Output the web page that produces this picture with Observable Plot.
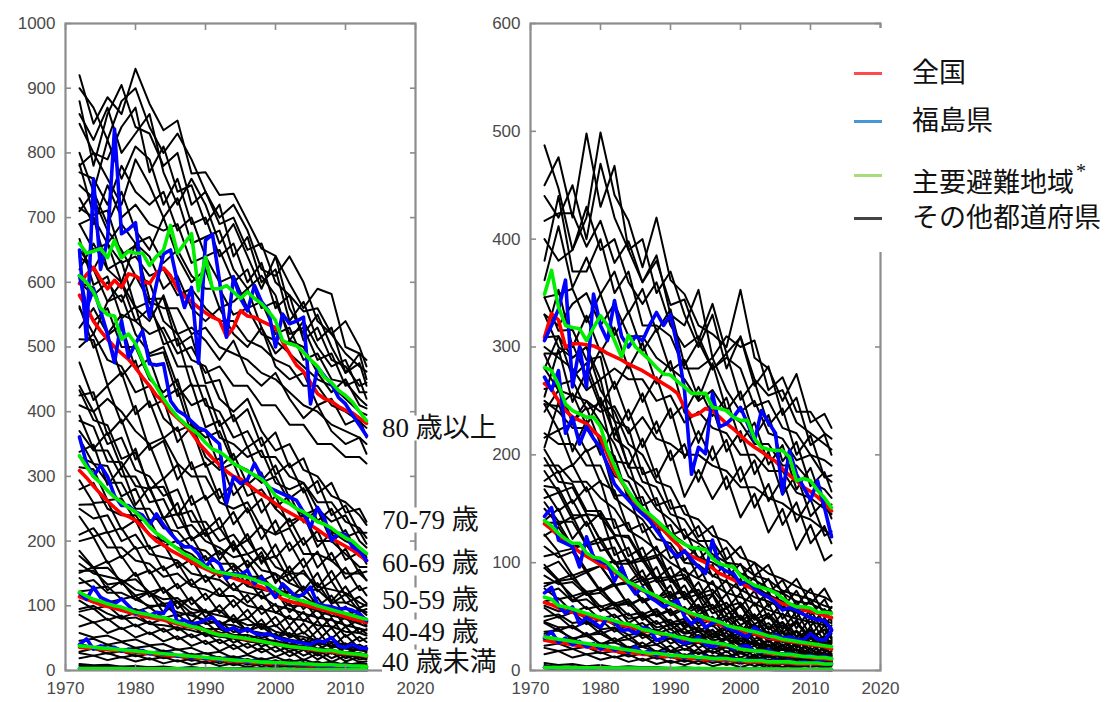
<!DOCTYPE html>
<html><head><meta charset="utf-8">
<script src="https://cdn.jsdelivr.net/npm/d3@7"></script>
<script src="https://cdn.jsdelivr.net/npm/@observablehq/plot@0.6"></script>
<style>
html,body{margin:0;padding:0;background:#fff;}
#root{position:relative;width:1110px;height:702px;overflow:hidden;background:#fff;}
.panel{position:absolute;top:0;}
.age{position:absolute;left:382px;background:#fff;font-family:"Liberation Serif","Noto Sans CJK JP",serif;font-size:27px;line-height:23px;padding:1px 0;color:#111;white-space:nowrap;transform:translateY(-50%);}
#legend{position:absolute;left:845px;top:28px;width:265px;height:224px;background:#fff;}
.lg-row{position:absolute;left:0;height:30px;transform:translateY(-50%);}
.lg-sw{position:absolute;left:9px;top:14px;width:28px;height:3px;}
.lg-tx{position:absolute;left:67px;top:0;font-family:"Liberation Serif","Noto Sans CJK JP",serif;font-size:27px;line-height:30px;color:#111;white-space:nowrap;}
.lg-tx sup{font-size:20px;position:relative;top:-4px;margin-left:2px;}
</style></head>
<body><div id="root"></div>
<script>
// ---------- data ----------
const years = [1972,1973,1974,1975,1976,1977,1978,1979,
  1980,1981,1982,1983,1984,1985,1986,1987,1988,1989,
  1990,1991,1992,1993,1994,1995,1996,1997,1998,1999,
  2000,2001,2002,2003,2004,2005,2006,2007,2008,2009,
  2010,2011,2012,2013];
const sampleYears = [1972,1974,1976,1978,1980,1982,1984,1986,1988,1990,1992,1994,1996,1998,2000,2002,2004,2006,2008,2010,2012,2013];
const ageGroups = ["80 歳以上","70-79 歳","60-69 歳","50-59 歳","40-49 歳","40 歳未満"];
const legendLabels = ["全国","福島県","主要避難地域","その他都道府県"];
const xTicks = [1970,1980,1990,2000,2010,2020];
const yTicksLeft = [0,100,200,300,400,500,600,700,800,900,1000];
const yTicksRight = [0,100,200,300,400,500,600];

// Left panel: national (全国), rows = age groups 80+,70-79,60-69,50-59,40-49,<40
const leftNational = [
 [598,612,623,605,590,603,592,613, 610,602,598,615,622,610,590,578,570,561, 553,546,541,516,530,556,548,546,540,535, 530,508,490,472,462,445,428,420,416,408, 402,398,390,382],
 [580,561,540,525,512,500,490,481, 468,453,440,425,415,400,390,380,368,352, 340,328,318,308,300,296,288,280,272,266, 258,250,244,238,232,225,218,210,204,198, 192,186,178,170],
 [309,298,285,273,262,252,242,238, 232,222,210,200,194,186,180,174,168,162, 157,152,149,146,143,139,136,132,129,124, 118,110,107,104,102,99,96,93,90,87, 83,80,77,74],
 [114,110,106,102,99,96,93,90, 87,84,82,80,78,75,72,69,67,65, 62,59,56,54,52,50,48,46,45,43, 41,39,37,36,34,33,31,30,29,27, 26,25,24,22],
 [36,35,34,33,32,31,30,29, 28,27,26,25,24,23,22,21,20,19, 18,17,16,15,14,14,13,12,12,11, 11,10,10,9,9,8,8,8,7,7, 7,6,6,6],
 [3,3,3,3,2.9,2.9,2.8,2.8, 2.7,2.7,2.6,2.6,2.5,2.5,2.4,2.4,2.3,2.3, 2.2,2.2,2.1,2.1,2,2,1.9,1.9,1.8,1.8, 1.7,1.7,1.6,1.6,1.5,1.5,1.4,1.4,1.3,1.3, 1.2,1.2,1.1,1.1]
];
const leftFukushima = [
 [650,510,760,620,665,837,675,682, 692,600,546,598,644,650,600,561,592,475, 665,674,603,515,608,575,556,595,570,556, 500,551,536,540,546,412,469,455,443,422, 412,395,379,363],
 [610,560,590,556,520,476,541,484, 505,525,474,472,474,417,402,395,385,375, 371,360,350,258,299,289,295,320,300,283, 278,273,268,263,245,221,252,235,201,212, 210,191,185,170],
 [361,320,300,317,300,270,255,255, 245,240,225,242,225,212,200,191,191,180, 160,173,165,142,150,148,155,134,144,128, 113,134,124,113,118,129,103,100,98,95, 96,93,88,77],
 [120,110,129,113,108,103,111,100, 88,92,85,90,88,106,75,78,72,74, 78,82,70,62,66,60,64,58,55,57, 52,48,46,44,42,40,46,44,51,38, 36,40,35,34],
 [40,49,33,38,34,36,30,33, 29,31,26,28,25,27,22,24,20,22, 18,20,16,18,15,17,13,15,12,14, 11,12,10,11,9,10,8,9,7,8, 6,7,6,5],
 [3.5,2.5,3.2,2.8,3.3,2.5,3,2.6, 2.9,2.4,2.8,2.3,2.7,2.2,2.6,2.2,2.4,2, 2.3,1.9,2.2,1.8,2.1,1.7,2,1.6,1.9,1.5, 1.8,1.5,1.7,1.4,1.6,1.3,1.5,1.2,1.4,1.2, 1.3,1.1,1.2,1]
];
const leftEvac = [
 [660,645,648,652,638,665,638,648, 645,645,626,640,650,688,645,660,675,587, 639,590,590,595,585,575,585,575,567,555, 541,510,505,502,492,480,470,453,445,433, 425,415,400,386],
 [610,600,585,560,550,548,512,520, 505,480,455,438,420,405,392,382,373,365, 352,342,338,330,320,314,308,302,296,285, 270,263,258,250,245,238,230,226,220,212, 205,200,190,181],
 [332,315,300,290,278,268,260,252, 245,235,222,212,205,196,188,180,174,168, 160,155,152,150,148,146,144,140,136,133, 126,118,114,110,107,104,100,97,94,91, 88,85,82,79],
 [121,115,110,107,103,100,98,94, 90,88,86,83,82,78,74,71,68,66, 62,58,55,54,52,51,49,47,45,43, 41,39,37,36,35,34,32,31,31,29, 27,26,25,23],
 [38,37,36,35,34,33,32,31, 30,29,28,27,26,25,24,23,22,21, 20,19,18,17,16,15,15,14,13,13, 12,12,11,11,10,10,9,9,9,8, 8,7,7,6],
 [3.2,3.1,3.1,3,3,2.9,2.9,2.8, 2.8,2.7,2.7,2.6,2.6,2.5,2.5,2.4,2.4,2.3, 2.3,2.2,2.2,2.1,2.1,2,2,1.9,1.9,1.8, 1.8,1.7,1.7,1.6,1.6,1.5,1.5,1.4,1.4,1.3, 1.3,1.2,1.2,1.1]
];
// Left panel: other prefectures (その他都道府県), sampled every two years
const leftOther80 = [
 [920,845,886,860,930,876,835,850,768,770,735,737,695,652,641,598,560,590,582,500,490,480],
 [880,780,860,905,840,830,780,800,720,740,690,700,650,660,600,580,555,560,520,490,470,462],
 [845,800,790,840,870,770,810,740,750,690,720,640,670,600,620,540,570,510,530,460,475,440],
 [800,740,820,760,810,790,720,760,690,700,640,660,600,630,560,580,510,530,480,470,440,445],
 [770,760,720,780,740,720,740,680,700,640,650,600,620,560,570,520,530,480,490,440,450,420],
 [730,690,750,700,720,690,680,690,630,640,600,610,560,570,520,530,480,490,450,445,420,410],
 [690,700,660,690,660,670,630,650,610,590,590,550,560,520,510,490,470,450,440,420,400,395],
 [650,620,660,630,640,610,620,580,590,560,540,540,510,500,480,470,440,440,410,400,385,375],
 [600,580,600,570,610,570,560,560,520,530,500,490,480,460,450,430,410,400,380,370,360,350],
 [530,560,520,550,540,520,530,490,500,460,470,440,440,410,410,380,380,350,350,330,330,320],
 [900,870,820,880,900,840,800,830,790,740,700,720,680,620,610,640,600,540,520,540,500,470],
 [860,820,870,800,830,860,770,720,760,720,660,690,640,590,640,560,520,550,500,460,490,450],
 [780,800,760,720,790,750,700,730,660,670,680,620,590,610,580,510,540,500,470,480,430,430],
 [710,740,690,740,680,650,700,640,600,620,560,570,590,530,490,510,500,460,430,450,410,405],
 [620,660,620,600,660,640,590,610,560,540,560,520,500,530,470,450,460,410,420,380,390,360],
 [560,520,570,600,560,540,580,520,530,510,480,510,460,440,460,420,390,410,370,350,360,335]
];
const leftOther70 = [
 [783,704,711,642,657,574,575,502,517,444,449,385,404,347,368,314,328,274,290,244,250,230],
 [715,700,620,633,560,570,504,513,440,440,378,395,345,360,303,320,275,293,240,255,213,213],
 [667,596,609,544,563,486,492,424,443,376,386,325,346,293,317,266,282,231,250,206,215,196],
 [599,592,518,535,466,482,421,435,366,372,314,335,287,306,251,271,229,249,199,217,177,179],
 [563,499,517,455,479,407,418,353,377,315,328,271,294,244,270,222,240,191,213,171,183,165],
 [512,511,441,461,396,416,359,376,311,321,266,290,244,265,212,235,194,216,169,188,150,153],
 [476,418,440,382,409,341,355,295,322,264,281,226,251,203,232,185,205,159,182,142,156,139],
 [425,430,364,388,326,350,296,318,256,270,219,245,201,224,174,198,159,184,138,159,124,128],
 [394,342,368,313,343,279,297,240,270,216,236,184,211,165,195,151,173,128,154,116,131,116],
 [338,349,287,314,256,284,234,259,201,219,171,200,158,183,135,161,124,151,107,130,97,102],
 [750,730,680,650,610,600,540,520,480,470,420,400,420,370,340,350,310,300,270,260,240,225],
 [690,650,660,600,540,560,520,470,470,410,400,360,370,330,330,300,290,260,260,230,220,205],
 [640,620,570,580,520,490,500,440,410,420,360,350,330,340,290,280,290,250,230,240,200,190],
 [580,540,560,500,500,450,430,450,380,360,370,320,310,290,300,260,240,250,215,200,190,175],
 [500,520,480,470,430,440,390,370,380,330,310,320,270,280,250,230,240,200,200,180,160,160],
 [440,400,420,400,370,350,360,320,300,300,260,250,260,220,210,220,180,180,170,150,150,140]
];
const leftOther60 = [
 [433,387,379,327,337,282,284,240,247,208,221,188,202,169,177,138,155,122,138,104,114,104],
 [386,377,323,322,285,281,236,242,203,213,179,195,162,177,139,149,119,135,103,118,91,95],
 [358,319,316,269,281,232,237,197,207,170,185,154,170,138,149,112,130,99,116,84,95,86],
 [314,311,263,266,232,233,192,201,164,177,144,162,131,147,112,124,95,113,83,99,73,78],
 [294,259,261,218,232,188,196,159,172,137,154,124,141,111,124,90,109,79,98,67,79,70],
 [256,257,213,220,188,193,155,167,132,147,116,135,105,123,89,104,76,95,65,83,58,64],
 [238,207,214,174,191,150,161,127,141,109,127,98,117,87,103,70,91,62,81,52,65,57],
 [200,206,166,177,146,155,120,134,102,119,89,109,80,100,68,85,57,77,49,68,45,50],
 [185,159,169,133,151,114,128,96,113,82,101,74,94,65,83,52,73,46,66,38,52,44],
 [151,160,124,138,109,121,89,106,75,94,65,86,59,79,49,68,41,62,35,55,34,38],
 [410,400,350,360,310,300,270,280,230,230,200,210,180,190,160,150,150,130,125,120,105,100],
 [370,340,340,300,300,260,265,220,225,200,190,175,180,155,150,135,125,125,105,105,95,90],
 [330,320,290,290,250,250,220,215,190,185,165,165,145,145,125,120,115,100,100,88,85,80],
 [280,290,250,240,240,210,200,190,180,160,150,150,130,125,120,100,100,92,85,80,72,68],
 [250,235,240,200,210,180,175,170,150,145,140,125,120,115,100,95,88,82,78,70,65,62],
 [210,220,190,190,170,165,145,150,130,125,115,115,100,95,90,80,78,70,68,60,58,54]
];
const leftOther50 = [
 [177,158,159,138,141,121,127,106,110,90,93,75,80,64,70,51,59,42,51,34,40,34],
 [154,154,133,136,116,121,103,107,88,93,72,79,61,69,51,58,42,49,35,42,31,31],
 [143,127,130,110,115,97,104,84,90,72,76,59,66,50,57,40,49,33,42,27,33,28],
 [122,125,105,110,91,98,81,87,69,75,57,64,48,56,40,47,32,41,26,35,24,25],
 [108,95,100,82,89,72,80,62,70,53,59,43,52,37,45,29,38,23,34,19,26,21],
 [91,96,78,85,68,76,60,67,51,59,42,50,35,44,29,37,23,32,19,28,17,19],
 [86,74,80,64,71,56,65,48,56,41,48,33,42,28,37,22,32,17,28,14,21,17],
 [68,75,58,66,51,59,45,53,38,46,30,40,25,35,21,30,16,26,13,23,13,14],
 [165,150,145,140,125,120,110,112,95,90,85,80,70,72,60,55,52,46,44,40,35,33],
 [135,140,120,120,110,100,100,90,85,78,72,70,62,58,54,48,44,42,38,34,32,30],
 [115,105,108,92,95,85,82,76,76,64,64,55,55,48,46,40,38,34,32,28,27,24],
 [95,100,88,80,82,72,70,66,62,56,52,50,45,42,40,34,32,28,28,24,22,20]
];
const leftOther40 = [
 [58,51,54,45,48,39,41,32,35,26,29,19,24,16,21,13,17,10,14,8,12,10],
 [46,49,40,44,35,38,29,33,24,27,19,22,15,19,12,17,9,14,6,12,6,8],
 [41,36,40,32,35,27,31,22,26,18,21,13,18,11,16,9,13,6,11,5,9,7],
 [29,34,26,30,22,26,19,23,15,19,11,16,9,14,7,12,5,10,4,9,3,5],
 [27,23,27,20,24,17,21,14,18,11,15,8,13,6,11,5,10,3,8,3,7,5],
 [19,23,16,21,14,19,11,16,9,14,7,11,5,10,4,9,2,8,1,7,2,4]
];
const leftOtherU40 = [
 [8,5,7,4,6,4,5,3,5,3,4,2,4,2,3,2,3,1,2,1,2,1],
 [5,7,4,6,3,5,3,4,2,4,2,3,2,3,1,2,1,2,1,2,1,1],
 [3,2,4,2,3,2,3,1,2,1,2,1,2,1,1,1,1,1,1,1,1,1],
 [10,8,9,6,7,5,6,4,5,3,4,3,3,2,3,2,2,2,2,1,2,1]
];

// Right panel
const rightNational = [
 [309,331,325,300,303,303,302,301, 298,294,291,288,284,281,278,274,270,266, 262,257,244,236,238,243,241,235,229,224, 218,212,207,203,198,194,187,181,176,170, 166,161,155,148],
 [266,261,250,241,235,232,229,222, 216,200,185,175,165,155,148,142,136,130, 123,117,110,106,103,100,95,90,87,84, 81,78,75,71,68,65,62,60,58,56, 55,53,51,49],
 [136,131,125,120,115,110,106,102, 98,95,91,86,81,77,74,71,68,65, 61,58,55,52,50,47,45,43,40,38, 37,35,34,32,30,29,28,27,26,25, 24,23,22,20],
 [63,61,58,56,54,52,51,49, 47,46,44,42,41,39,37,36,35,33, 32,30,29,28,27,26,25,24,23,22, 20,19,18,17,16,15,15,14,13,13, 12,11,11,10],
 [28,27,26,25,24,23,22,21, 20,19,18,17,17,16,15,15,14,13, 13,12,12,11,11,10,10,10,9,9, 9,8,8,8,7,7,7,7,6,6, 6,6,6,6],
 [2.5,2.5,2.4,2.4,2.3,2.3,2.2,2.2, 2.1,2.1,2,2,1.9,1.9,1.8,1.8,1.7,1.7, 1.6,1.6,1.5,1.5,1.4,1.4,1.3,1.3,1.3,1.2, 1.2,1.2,1.1,1.1,1.1,1,1,1,1,0.9, 0.9,0.9,0.9,0.8]
];
const rightFukushima = [
 [306,320,335,362,263,300,263,349, 320,306,343,310,300,310,306,320,332,320, 330,300,260,182,207,201,257,226,229,235, 244,229,213,241,230,220,164,204,182,170, 158,176,151,124],
 [272,260,278,220,235,210,226,215, 207,190,173,165,158,151,145,139,130,121, 112,105,111,103,96,90,121,96,92,90, 80,83,76,71,68,63,56,58,56,52, 49,47,46,38],
 [143,151,121,118,115,96,124,105, 101,99,83,96,80,71,77,68,64,59, 62,65,50,43,49,40,44,46,40,37, 34,31,40,35,31,33,30,31,29,28, 34,29,28,37],
 [72,77,60,53,59,43,49,45, 40,49,45,37,38,34,40,38,28,30, 34,28,25,27,31,24,22,25,24,20, 22,23,18,17,19,16,15,16,14,13, 14,12,13,11],
 [30,36,26,30,24,27,22,25, 20,23,19,21,17,22,16,18,14,17, 13,15,12,14,11,13,10,12,10,11, 9,10,9,10,8,9,8,9,7,8, 7,8,7,6],
 [3,2,2.8,2.1,2.6,2,2.5,1.9, 2.4,1.8,2.3,1.7,2.2,1.7,2.1,1.6,2,1.5, 1.9,1.5,1.8,1.4,1.7,1.3,1.6,1.3,1.5,1.2, 1.4,1.2,1.3,1.1,1.2,1,1.2,1,1.1,0.9, 1,0.9,1,0.8]
];
const rightEvac = [
 [349,371,337,320,318,317,306,318, 329,320,306,291,311,300,294,288,281,275, 274,268,263,257,257,257,244,243,241,235, 232,232,215,207,205,204,204,198,176,178, 176,167,160,151],
 [281,278,265,247,241,238,235,235, 226,205,190,176,166,157,150,145,139,133, 127,121,117,114,113,112,104,99,97,96, 88,83,79,77,75,72,67,62,59,59, 58,54,54,53],
 [139,134,127,122,118,118,109,105, 104,100,93,88,82,79,75,72,69,65, 62,59,56,53,51,49,47,45,42,40, 39,37,36,34,32,31,29,28,27,26, 25,24,23,22],
 [68,66,60,59,57,55,53,51, 49,48,46,44,43,41,38,37,35,34, 33,31,30,28,28,27,26,25,24,22, 20,19,18,18,17,16,15,15,14,13, 13,12,12,11],
 [31,30,29,28,27,26,25,24, 23,22,21,20,19,18,17,16,16,15, 14,14,13,13,12,12,11,11,11,10, 10,9,9,9,8,8,8,8,7,7, 7,7,6,6],
 [2.8,2.8,2.7,2.7,2.6,2.6,2.5,2.5, 2.4,2.4,2.3,2.3,2.2,2.2,2.1,2.1,2,2, 1.9,1.9,1.8,1.8,1.7,1.7,1.6,1.6,1.5,1.5, 1.4,1.4,1.4,1.3,1.3,1.3,1.2,1.2,1.2,1.1, 1.1,1.1,1,1]
];
const rightOther80 = [
 [487,447,390,420,499,441,417,374,420,362,349,320,312,300,353,290,280,250,275,230,238,225],
 [450,476,420,498,430,468,390,360,385,330,320,353,290,310,300,306,260,272,240,240,220,215],
 [417,424,424,393,417,378,398,360,380,339,344,306,340,294,309,264,282,237,253,209,219,200],
 [362,412,355,383,349,370,331,354,314,335,283,305,279,294,251,268,227,243,200,218,179,181],
 [346,349,354,323,349,311,333,296,317,278,288,252,285,241,259,217,237,194,212,171,184,166],
 [306,353,300,329,295,318,280,304,266,287,239,263,236,253,212,230,191,209,168,188,151,154],
 [294,294,303,272,298,261,285,249,272,234,247,211,244,203,222,182,203,163,182,143,157,141],
 [254,298,249,278,244,268,232,257,220,243,197,222,195,214,175,195,157,178,138,159,125,129],
 [247,245,257,227,253,218,242,207,231,195,210,175,208,168,189,151,173,135,156,118,134,118],
 [207,249,203,232,200,225,189,215,179,204,161,186,159,180,142,164,128,150,112,135,102,107],
 [440,420,450,400,470,420,390,400,350,370,330,300,330,280,310,270,255,260,230,220,210,205],
 [400,380,390,430,390,400,360,340,360,320,300,310,280,290,280,245,250,225,220,200,195,190],
 [380,440,370,370,400,350,370,320,320,310,280,280,290,260,240,250,220,215,195,200,180,175],
 [330,320,340,350,320,340,310,310,290,280,270,250,260,240,230,210,210,190,190,175,168,160],
 [280,310,290,300,270,280,270,270,250,255,230,240,225,220,200,200,185,185,165,160,150,145],
 [240,260,230,250,240,245,220,235,215,210,200,200,190,185,170,170,160,155,145,140,130,126]
];
const rightOther70 = [
 [346,315,316,288,291,231,225,182,187,150,153,124,134,103,115,88,98,71,85,62,76,64],
 [309,310,272,285,249,232,188,188,153,158,122,134,104,114,87,100,72,84,60,76,51,59],
 [293,265,269,242,248,194,192,153,160,125,131,103,115,86,99,73,85,58,74,51,66,54],
 [261,265,230,244,210,199,158,161,129,135,102,115,87,99,73,87,59,73,49,66,42,50],
 [247,223,229,203,211,162,163,128,136,104,112,86,98,71,85,60,73,48,64,41,57,46],
 [216,223,190,205,174,167,130,136,106,115,84,98,71,84,59,74,48,63,39,57,33,42],
 [205,183,191,166,176,132,137,104,115,85,95,69,83,57,72,48,62,38,55,32,49,38],
 [176,185,155,170,141,140,106,114,85,96,67,82,57,71,47,63,38,53,31,49,26,34],
 [168,148,158,134,146,107,114,83,96,67,79,55,70,45,61,37,53,29,47,25,42,31],
 [139,150,122,138,111,114,82,93,66,79,52,68,43,59,35,52,28,45,22,41,19,27],
 [330,300,290,300,260,240,210,200,175,170,145,140,125,120,105,100,90,85,78,72,68,64],
 [300,290,280,260,270,215,205,175,170,145,140,120,120,100,98,88,84,74,70,66,60,58],
 [280,260,255,250,230,210,180,170,150,140,125,118,108,100,90,84,76,72,64,62,56,54],
 [250,240,225,225,205,180,175,150,140,128,118,105,100,92,82,78,70,64,60,55,52,48],
 [220,210,210,190,190,160,150,140,122,118,100,98,88,82,75,68,64,58,54,50,46,44],
 [190,190,175,175,160,150,130,122,112,100,92,85,80,72,68,62,56,52,48,45,42,40]
];
const rightOther60 = [
 [197,175,173,148,148,126,123,101,105,82,86,67,71,52,60,43,50,35,44,29,38,29],
 [171,169,144,144,121,124,99,102,82,85,66,71,53,58,42,50,33,42,28,37,23,26],
 [156,138,138,116,119,99,99,79,84,64,69,52,58,40,49,33,41,26,36,22,31,23],
 [137,137,115,117,97,102,79,84,65,70,52,59,41,48,33,42,26,35,21,31,17,21],
 [126,110,113,93,97,79,81,63,69,51,57,41,48,31,40,26,34,20,30,16,26,19],
 [106,109,88,93,74,81,60,67,50,56,39,47,31,39,24,34,19,29,15,26,12,16],
 [98,84,89,70,77,60,64,47,55,38,46,30,38,23,33,18,28,14,25,11,22,14],
 [78,84,65,72,55,62,44,52,36,44,28,37,22,31,17,27,13,23,10,21,8,12],
 [185,165,170,145,143,125,125,103,107,87,89,71,75,59,63,47,53,39,45,31,38,30],
 [160,165,140,145,120,123,100,105,85,87,70,75,57,63,47,52,38,45,31,38,25,28],
 [150,135,143,117,123,100,103,83,87,70,73,57,61,47,51,38,44,31,37,25,32,25],
 [125,133,113,117,97,101,81,87,67,73,55,61,45,51,37,43,30,37,24,32,19,22],
 [115,105,110,91,97,79,83,65,70,53,59,44,50,36,42,29,36,23,31,19,27,20],
 [95,101,85,91,73,79,61,67,51,57,41,48,34,41,27,35,22,30,18,26,14,18]
];
const rightOther50 = [
 [95,83,85,73,75,62,66,52,57,44,48,37,42,31,34,23,28,19,24,14,21,15],
 [81,82,69,73,59,63,51,54,43,47,35,40,30,35,23,28,18,24,14,20,11,14],
 [76,66,69,57,60,49,53,40,46,34,39,28,34,24,28,18,23,14,20,10,17,12],
 [64,67,54,59,47,52,40,44,34,39,27,33,23,29,18,23,13,20,10,17,8,11],
 [58,49,54,43,47,36,42,30,36,25,31,21,27,17,22,13,19,10,16,7,14,9],
 [46,50,39,45,34,39,29,34,24,30,19,26,16,22,12,18,9,16,6,14,5,8],
 [44,37,42,32,37,27,33,22,29,18,24,15,22,12,18,9,15,7,13,4,12,7],
 [34,39,28,35,24,30,21,26,17,23,13,20,11,18,8,15,6,13,4,11,3,6],
 [88,80,82,70,72,60,62,50,52,43,44,36,37,30,30,24,24,19,19,15,15,13],
 [72,76,64,66,56,58,48,50,40,42,34,36,28,30,23,25,18,20,14,16,11,12],
 [60,55,56,48,50,42,44,36,38,31,32,26,27,21,22,17,18,13,14,10,11,9],
 [50,52,44,46,38,40,33,35,28,30,24,26,20,22,16,18,12,14,10,11,8,8]
];
const rightOther40 = [
 [45,40,40,33,34,27,29,22,24,17,20,16,18,12,16,11,13,9,12,8,11,10],
 [36,37,30,32,25,26,21,22,17,18,13,17,12,14,10,13,7,11,6,10,6,8],
 [32,28,30,23,25,19,22,15,18,12,15,11,14,8,12,7,10,6,9,5,8,7],
 [23,25,20,22,16,18,13,16,11,13,8,12,7,10,6,9,4,8,3,7,4,5],
 [21,18,20,15,17,12,15,9,13,7,10,6,10,5,9,4,7,3,7,3,6,5],
 [15,18,12,15,10,13,8,11,6,9,5,9,4,7,3,7,2,6,2,6,2,4]
];
const rightOtherU40 = [
 [5,3,4,2,3,2,3,2,2,1,2,1,2,1,1,1,1,1,1,1,1,1],
 [3,4,2,3,2,3,1,2,1,2,1,1,1,1,1,1,1,1,1,1,1,1],
 [7,5,6,4,5,3,4,3,3,2,3,2,2,2,2,1,2,1,1,1,1,1],
 [2,2,3,1,2,1,2,1,1,1,1,1,1,1,1,1,1,1,1,1,1,1]
];

// ---------- drawing ----------
const COLORS = {national: "#ff0000", fukushima: "#0000ff", evac: "#00ee00", other: "#000000"};
const AXIS = "#8c8c8c";

function otherRows(groups) {
  return groups.flatMap((group, g) => group.flatMap((vals, i) =>
    vals.map((v, k) => ({x: sampleYears[k], y: v, id: g + "-" + i}))));
}
function colorRows(series, name) {
  return series.flatMap((vals, g) => vals.map((v, k) => ({x: years[k], y: v, id: name + "-" + g})));
}

function panel(national, fukushima, evac, others, yMax, yTicks) {
  const fmt = d => String(d);
  return Plot.plot({
    width: 430, height: 702,
    marginLeft: 65, marginRight: 15, marginTop: 23, marginBottom: 32,
    x: {domain: [1970, 2020]},
    y: {domain: [0, yMax]},
    style: {fontFamily: "'Liberation Sans', Arial, sans-serif", background: "transparent", overflow: "visible"},
    marks: [
      Plot.line(otherRows(others), {x: "x", y: "y", z: "id", stroke: COLORS.other, strokeWidth: 2}),
      Plot.line(colorRows(national, "n"), {x: "x", y: "y", z: "id", stroke: COLORS.national, strokeWidth: 3.6}),
      Plot.line(colorRows(fukushima, "f"), {x: "x", y: "y", z: "id", stroke: COLORS.fukushima, strokeWidth: 3.6}),
      Plot.line(colorRows(evac, "e"), {x: "x", y: "y", z: "id", stroke: COLORS.evac, strokeWidth: 3.6}),
      Plot.frame({stroke: AXIS, strokeWidth: 2.2}),
      Plot.axisY({anchor: "left", ticks: yTicks, tickSize: 0, tickPadding: 10, fontSize: 17, fill: "#4a4a4a", tickFormat: fmt, label: null}),
      Plot.axisY({anchor: "left", ticks: yTicks, tickSize: -6, fill: "none", stroke: AXIS, strokeWidth: 1.6, label: null}),
      Plot.axisY({anchor: "right", ticks: yTicks, tickSize: -6, fill: "none", stroke: AXIS, strokeWidth: 1.6, label: null}),
      Plot.axisX({anchor: "bottom", ticks: xTicks, tickSize: 0, tickPadding: 11, fontSize: 17, fill: "#4a4a4a", tickFormat: fmt, label: null}),
      Plot.axisX({anchor: "bottom", ticks: xTicks, tickSize: -6, fill: "none", stroke: AXIS, strokeWidth: 1.6, label: null}),
      Plot.axisX({anchor: "top", ticks: xTicks, tickSize: -6, fill: "none", stroke: AXIS, strokeWidth: 1.6, label: null})
    ]
  });
}

const root = document.getElementById("root");
const left = panel(leftNational, leftFukushima, leftEvac,
  [leftOther80, leftOther70, leftOther60, leftOther50, leftOther40, leftOtherU40], 1000, yTicksLeft);
const right = panel(rightNational, rightFukushima, rightEvac,
  [rightOther80, rightOther70, rightOther60, rightOther50, rightOther40, rightOtherU40], 600, yTicksRight);
const wl = document.createElement("div"); wl.className = "panel"; wl.style.left = "0px"; wl.appendChild(left); root.appendChild(wl);
const wr = document.createElement("div"); wr.className = "panel"; wr.style.left = "465px"; wr.appendChild(right); root.appendChild(wr);

// age-group labels (layout positions)
const labelTops = [428, 520, 563, 600, 632, 662];
ageGroups.forEach((t, i) => {
  const s = document.createElement("div");
  s.className = "age"; s.textContent = t; s.style.top = labelTops[i] + "px";
  root.appendChild(s);
});

// legend
const legend = document.createElement("div"); legend.id = "legend"; root.appendChild(legend);
const legendColors = ["#ff4b4b", "#4a95d6", "#a8dc78", "#444444"];
const legendRowY = [45, 93, 147, 190];
legendLabels.forEach((t, i) => {
  const row = document.createElement("div"); row.className = "lg-row"; row.style.top = legendRowY[i] + "px";
  const sw = document.createElement("div"); sw.className = "lg-sw"; sw.style.background = legendColors[i];
  const tx = document.createElement("div"); tx.className = "lg-tx"; tx.textContent = t;
  if (i === 2) { const sup = document.createElement("sup"); sup.textContent = "*"; tx.appendChild(sup); }
  row.appendChild(sw); row.appendChild(tx); legend.appendChild(row);
});
</script></body></html>
